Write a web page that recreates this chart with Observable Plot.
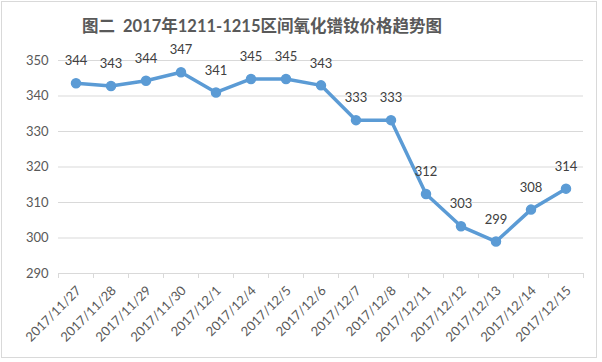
<!DOCTYPE html>
<html>
<head>
<meta charset="utf-8">
<script src="https://cdn.jsdelivr.net/npm/d3@7"></script>
<script src="https://cdn.jsdelivr.net/npm/@observablehq/plot@0.6"></script>
<style>
  html, body { margin: 0; padding: 0; background: #fff; }
  #wrap { position: relative; width: 602px; height: 362px; overflow: hidden; }
  #frame { position: absolute; left: 1px; top: 1px; width: 596px; height: 357px; border: 1px solid #d9d9d9; box-sizing: border-box; pointer-events: none; }
  #title { position: absolute; left: 0; top: 13px; width: 524px; text-align: center;
           font-family: Lato, "Noto Sans CJK SC", sans-serif; font-weight: bold; font-size: 16.5px; color: #595959; white-space: pre; }
  #chart { position: absolute; left: 0; top: 0; }
</style>
</head>
<body>
<div id="wrap">
  <div id="chart"></div>
  <div id="title">图二  2017年1211-1215区间氧化镨钕价格趋势图</div>
  <div id="frame"></div>
</div>
<script>
const dates = ["2017/11/27","2017/11/28","2017/11/29","2017/11/30","2017/12/1","2017/12/4","2017/12/5","2017/12/6","2017/12/7","2017/12/8","2017/12/11","2017/12/12","2017/12/13","2017/12/14","2017/12/15"];
const prices = [343.6, 342.8, 344.3, 346.7, 341.0, 344.8, 344.8, 343.0, 333.2, 333.2, 312.4, 303.3, 299.0, 308.0, 313.9];
const priceLabels = [344, 343, 344, 347, 341, 345, 345, 343, 333, 333, 312, 303, 299, 308, 314];
const yTicks = [290, 300, 310, 320, 330, 340, 350];

const data = dates.map((d, i) => ({i, date: d, price: prices[i], label: priceLabels[i]}));
const idx = d3.range(dates.length);
const bounds = d3.range(-0.5, dates.length, 1);

const labelFont = "Lato, 'Liberation Sans', sans-serif";

const chart = Plot.plot({
  width: 602,
  height: 362,
  marginLeft: 58,
  marginRight: 19,
  marginTop: 60,
  marginBottom: 89,
  style: {fontFamily: labelFont, background: "transparent", overflow: "visible"},
  x: {type: "linear", domain: [-0.5, dates.length - 0.5]},
  y: {domain: [290, 350]},
  marks: [
    Plot.ruleY(yTicks, {stroke: "#d9d9d9", strokeWidth: 1}),
    Plot.axisX({ticks: bounds, tickFormat: () => "", tickSize: 5, stroke: "#d9d9d9", label: null}),
    Plot.axisX({ticks: idx, tickFormat: i => dates[i], tickSize: 0, tickPadding: 15, tickRotate: -45,
                fontSize: 13, fill: "#595959", label: null, dx: 3, style: {letterSpacing: "0.9px"}}),
    Plot.axisY({ticks: yTicks, tickSize: 0, tickPadding: 10, fontSize: 13, fill: "#595959", label: null,
                style: {letterSpacing: "0.8px"}}),
    Plot.line(data, {x: "i", y: "price", stroke: "#5B9BD5", strokeWidth: 3.5, strokeLinejoin: "round"}),
    Plot.dot(data, {x: "i", y: "price", r: 4.5, fill: "#5B9BD5", stroke: "#5B9BD5"}),
    Plot.text(data, {x: "i", y: "price", text: "label", dy: -22, fontSize: 13, fill: "#404040",
                     style: {letterSpacing: "0.5px"}})
  ]
});
document.getElementById("chart").appendChild(chart);
</script>
</body>
</html>
